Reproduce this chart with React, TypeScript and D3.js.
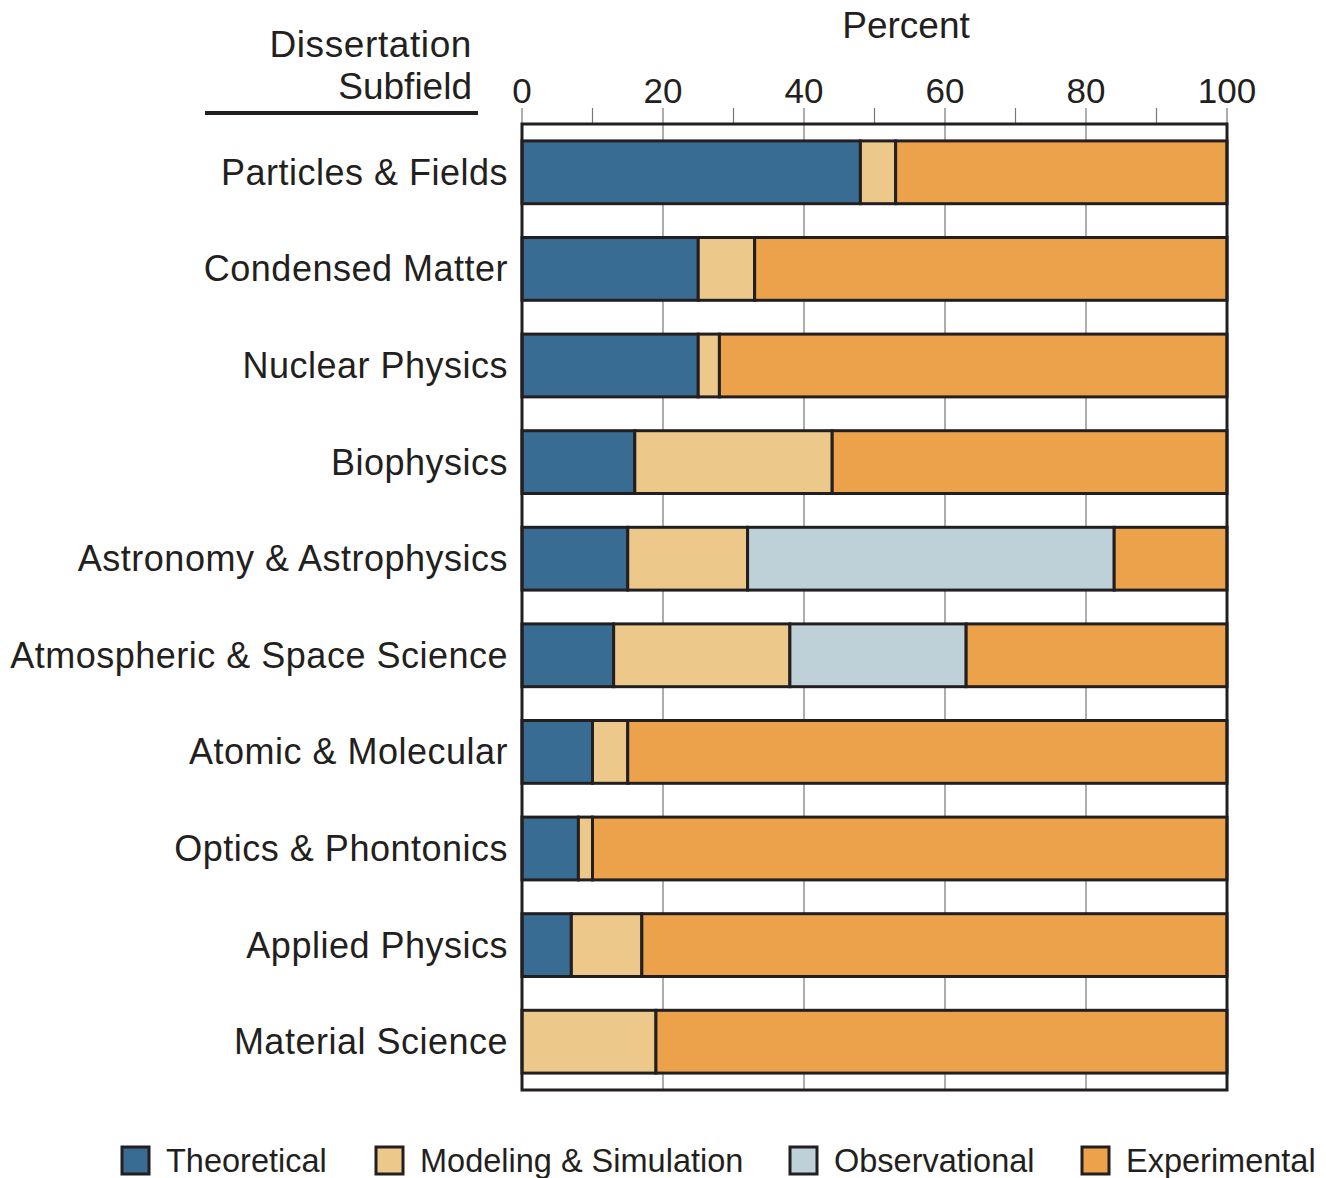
import React from "react";
import * as d3 from "d3";

const categories = [
  "Particles & Fields",
  "Condensed Matter",
  "Nuclear Physics",
  "Biophysics",
  "Astronomy & Astrophysics",
  "Atmospheric & Space Science",
  "Atomic & Molecular",
  "Optics & Phontonics",
  "Applied Physics",
  "Material Science",
];
const seriesNames = ["Theoretical", "Modeling & Simulation", "Observational", "Experimental"];
const theoretical = [48, 25, 25, 16, 15, 13, 10, 8, 7, 0];
const modeling = [5, 8, 3, 28, 17, 25, 5, 2, 10, 19];
const observational = [0, 0, 0, 0, 52, 25, 0, 0, 0, 0];
const experimental = [47, 67, 72, 56, 16, 37, 85, 90, 83, 81];
const colors = ["#396c93", "#ecc98b", "#bed1d8", "#eca24a"];
const majorTicks = [0, 20, 40, 60, 80, 100];
const minorTicks = [0, 10, 20, 30, 40, 50, 60, 70, 80, 90, 100];
const gridTicks = [20, 40, 60, 80];

const FONT = "'Liberation Sans', Arial, Helvetica, sans-serif";
const INK = "#231f20";

export default function App() {
  const W = 1326, H = 1178;
  const left = 522, right = 1227, top = 124, bottom = 1090;
  const x = d3.scaleLinear().domain([0, 100]).range([left, right]);
  const y = d3.scaleBand<string>().domain(categories).range([top, bottom]).paddingInner(0.35).paddingOuter(0.175);

  const rows = categories.map((c, i) => ({
    cat: c,
    Theoretical: theoretical[i],
    "Modeling & Simulation": modeling[i],
    Observational: observational[i],
    Experimental: experimental[i],
  }));
  const stacked = d3.stack<any>().keys(seriesNames)(rows);

  const legendX = [122, 376, 790, 1082];

  return (
    <svg width={W} height={H} style={{ display: "block", position: "absolute", left: 0, top: 0 }} fontFamily={FONT}>
      <rect width={W} height={H} fill="#fff" />
      {/* header */}
      <text x={472} y={57} fontSize={37} letterSpacing={0.6} textAnchor="end" fill={INK}>Dissertation</text>
      <text x={472} y={99} fontSize={37} textAnchor="end" fill={INK}>Subfield</text>
      <line x1={205} x2={478} y1={113} y2={113} stroke={INK} strokeWidth={4} />
      <text x={906} y={38} fontSize={37} textAnchor="middle" fill={INK}>Percent</text>
      {majorTicks.map((t) => (
        <text key={t} x={x(t)} y={103} fontSize={35} textAnchor="middle" fill={INK}>{t}</text>
      ))}
      {minorTicks.map((t) => (
        <line key={t} x1={x(t)} x2={x(t)} y1={108} y2={top} stroke="#777" strokeWidth={1.2} />
      ))}
      {/* grid */}
      {gridTicks.map((t) => (
        <line key={t} x1={x(t)} x2={x(t)} y1={top} y2={bottom} stroke="#777" strokeWidth={1.2} />
      ))}
      {/* bars */}
      {stacked.map((s, si) =>
        s.map((d, i) =>
          d[1] - d[0] > 0 ? (
            <rect
              key={si + "-" + i}
              x={x(d[0])}
              y={y(categories[i])!}
              width={x(d[1]) - x(d[0])}
              height={y.bandwidth()}
              fill={colors[si]}
              stroke={INK}
              strokeWidth={3}
            />
          ) : null
        )
      )}
      {/* frame */}
      <rect x={left} y={top} width={right - left} height={bottom - top} fill="none" stroke={INK} strokeWidth={3} />
      {/* category labels */}
      {categories.map((c) => (
        <text key={c} x={508} y={y(c)! + y.bandwidth() / 2 + 12.5} fontSize={36} letterSpacing={0.5} textAnchor="end" fill={INK}>{c}</text>
      ))}
      {/* legend */}
      {seriesNames.map((n, i) => (
        <g key={n}>
          <rect x={legendX[i]} y={1147} width={27} height={27} fill={colors[i]} stroke={INK} strokeWidth={3} />
          <text x={legendX[i] + 44} y={1172} fontSize={32.5} fill={INK}>{n}</text>
        </g>
      ))}
    </svg>
  );
}
